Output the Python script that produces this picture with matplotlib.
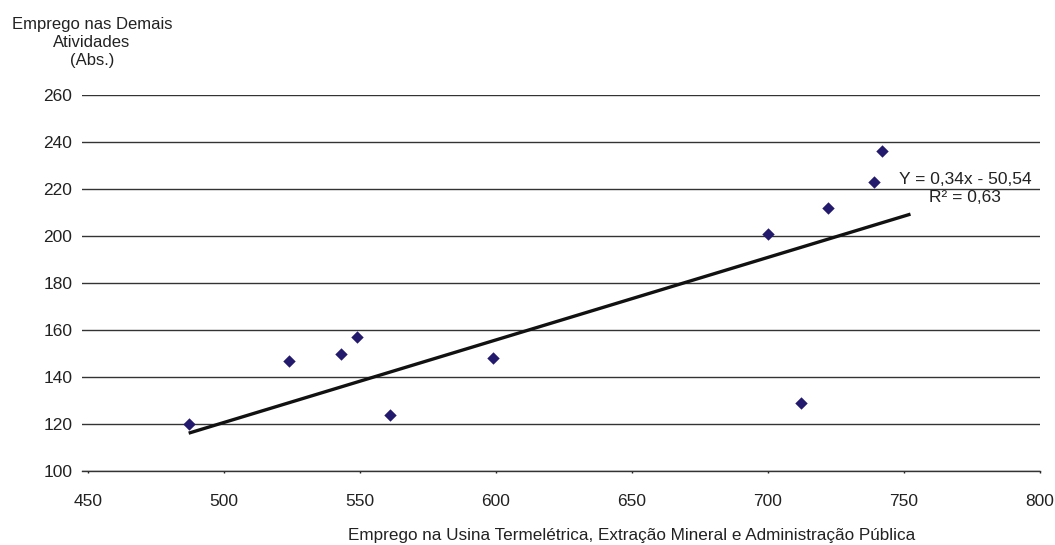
import matplotlib
matplotlib.use("Agg")
import matplotlib.pyplot as plt

# data
emprego_usina = [487, 524, 543, 549, 561, 599, 700, 712, 722, 739, 742]
emprego_demais = [120, 147, 150, 157, 124, 148, 201, 129, 212, 223, 236]

# trend line ends as drawn in the picture
trend_x = [487.6, 751.8]
trend_y = [116.3, 209.1]

x_ticks = [450, 500, 550, 600, 650, 700, 750, 800]
y_ticks = [100, 120, 140, 160, 180, 200, 220, 240, 260]

plt.rcParams["font.family"] = ["Liberation Sans", "DejaVu Sans"]

W, H = 1055, 545
fig = plt.figure(figsize=(W / 100, H / 100), dpi=100)

# axes box in pixels: left 82, right 1040, top 95, bottom 471
ax = fig.add_axes([82 / W, 1 - 471 / H, (1040 - 82) / W, (471 - 95) / H])

ax.scatter(emprego_usina, emprego_demais, marker="D", s=40,
           color="#231a6e", zorder=3, linewidths=0)
ax.plot(trend_x, trend_y, color="#111111", linewidth=2.4, zorder=2)

ax.set_xlim(447.8, 800)
ax.set_ylim(100, 260)
ax.set_xticks(x_ticks)
ax.set_yticks(y_ticks)
ax.grid(axis="y", color="#333333", linewidth=1.0)
ax.set_axisbelow(True)
for name, spine in ax.spines.items():
    spine.set_visible(name == "bottom")
ax.spines["bottom"].set_color("#333333")
ax.spines["bottom"].set_linewidth(1.0)

ax.tick_params(axis="x", length=1.5, width=1, color="#222222", pad=15,
               labelsize=12.5, labelcolor="#222222")
ax.tick_params(axis="y", length=0, pad=7, labelsize=12.5, labelcolor="#222222")

# equation of the trend line
fig.text(965 / W, 1 - 179 / H, "Y = 0,34x - 50,54", ha="center", va="center",
         fontsize=12.5, color="#222222")
fig.text(965 / W, 1 - 198 / H, "R² = 0,63", ha="center", va="center",
         fontsize=12.5, color="#222222")

# axis titles
fig.text(92 / W, 1 - 17 / H, "Emprego nas Demais\nAtividades\n(Abs.)",
         ha="center", va="top", fontsize=12, linespacing=1.25, color="#222222")
fig.text(632 / W, 1 - 528 / H,
         "Emprego na Usina Termelétrica, Extração Mineral e Administração Pública",
         ha="center", va="top", fontsize=12.3, color="#222222")

fig.savefig("out.png", dpi=100)
